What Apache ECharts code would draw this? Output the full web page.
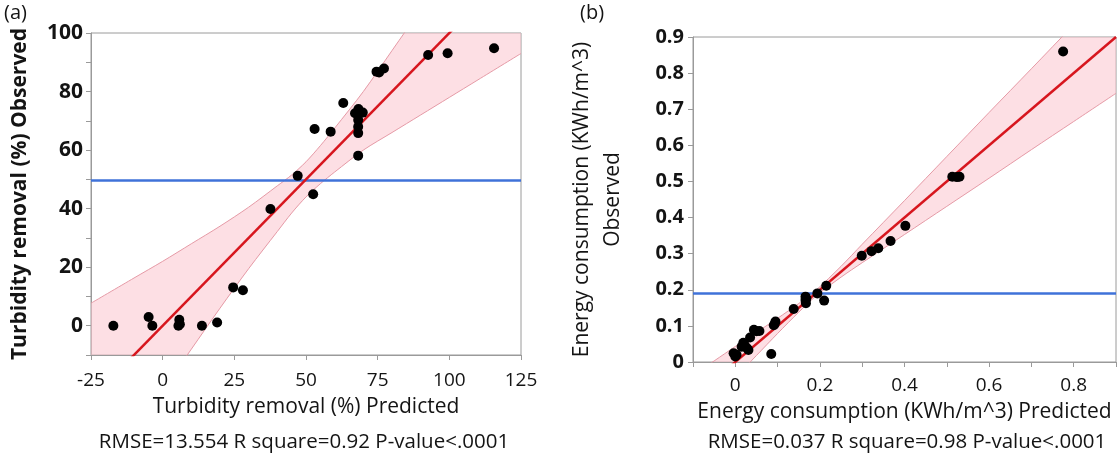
<!DOCTYPE html>
<html><head><meta charset="utf-8">
<script src="https://cdn.jsdelivr.net/npm/echarts@6/dist/echarts.min.js"></script>
<style>html,body{margin:0;padding:0;background:#fff}#c{width:1119px;height:457px}</style>
</head><body><div id="c"></div>
<script>
// ---------- Panel (a): Turbidity removal ----------
const predA = [-17.2, -4.9, -3.6, 5.5, 5.8, 6.0, 13.7, 19.0, 24.6, 28.0, 37.6, 47.1, 52.5, 53.0, 58.6, 63.0, 68.2, 68.2, 68.2, 68.2, 68.2, 67.1, 68.3, 69.8, 74.6, 75.5, 77.2, 92.6, 99.4, 115.6];
const obsA  = [0, 3, 0, 0, 2, 0.5, 0, 1.1, 13.1, 12.1, 39.9, 51.2, 44.9, 67.2, 66.3, 76.1, 58.1, 65.8, 68, 70.3, 72, 72.6, 74, 72.8, 86.8, 86.5, 87.9, 92.5, 93.1, 94.8];
const meanA = 49.6;
const fitAx = [-25, 125];
const fitAy = [-25, 125];
const bandAx     = [-25, -10, 0, 10, 20, 30, 40, 45, 50, 55, 60, 70, 80, 90, 100, 110, 125];
const bandAupper = [7.7, 16.3, 22.0, 28.0, 34.0, 40.5, 47.8, 51.5, 56.0, 61.5, 67.5, 80.0, 94.0, 108, 122, 136, 157];
const bandAlower = [-57.7, -36.3, -22, -8, 6, 19.5, 32.2, 38.5, 44, 48.5, 52.5, 60, 66, 72, 78, 84, 93];
const xLabelsA = [-25, 0, 25, 50, 75, 100, 125];
const yLabelsA = [0, 20, 40, 60, 80, 100];

// ---------- Panel (b): Energy consumption ----------
const predB = [-0.004, 0.0, 0.003, 0.015, 0.019, 0.022, 0.028, 0.031, 0.035, 0.044, 0.05, 0.057, 0.085, 0.091, 0.093, 0.095, 0.138, 0.166, 0.166, 0.167, 0.168, 0.194, 0.21, 0.215, 0.299, 0.322, 0.338, 0.367, 0.402, 0.513, 0.524, 0.53, 0.775];
const obsB  = [0.024, 0.015, 0.02, 0.042, 0.053, 0.047, 0.038, 0.033, 0.068, 0.089, 0.085, 0.086, 0.022, 0.102, 0.105, 0.112, 0.147, 0.181, 0.172, 0.163, 0.176, 0.19, 0.17, 0.211, 0.294, 0.307, 0.315, 0.335, 0.377, 0.513, 0.512, 0.513, 0.86];
const meanB = 0.193;
const fitBx = [-0.1, 0.9];
const fitBy = [-0.1, 0.9];
const bandBx     = [-0.1, -0.05, 0, 0.05, 0.1, 0.15, 0.19, 0.25, 0.3, 0.4, 0.5, 0.6, 0.7, 0.8, 0.9];
const bandBupper = [-0.036, 0.003, 0.043, 0.082, 0.121, 0.162, 0.198, 0.265, 0.326, 0.447, 0.569, 0.691, 0.812, 0.934, 1.056];
const bandBlower = [-0.164, -0.103, -0.043, 0.018, 0.079, 0.138, 0.182, 0.235, 0.275, 0.353, 0.431, 0.509, 0.588, 0.666, 0.744];
const xLabelsB = [0, 0.2, 0.4, 0.6, 0.8];
const yLabelsB = [0, 0.1, 0.2, 0.3, 0.4, 0.5, 0.6, 0.7, 0.8, 0.9];

// ---------- texts ----------
const titleA = '(a)', titleB = '(b)';
const yNameA = 'Turbidity removal (%) Observed';
const xNameA = 'Turbidity removal (%) Predicted';
const statsA = 'RMSE=13.554 R square=0.92 P-value<.0001';
const yNameB = 'Energy consumption (KWh/m^3)\nObserved';
const xNameB = 'Energy consumption (KWh/m^3) Predicted';
const statsB = 'RMSE=0.037 R square=0.98 P-value<.0001';

const FONT = '"Open Sans", "Noto Sans", sans-serif';
const TXT = '#141414';
const AXC = '#9a9a9a';
const BAND_FILL = 'rgba(252,196,206,0.55)';
const BAND_EDGE = '#e59aa6';

const zip = (a, b) => a.map((v, i) => [v, b[i]]);
const fmtNum = v => String(Number(v.toFixed(2)));
const hasLabel = (list, v) => list.some(l => Math.abs(l - v) < 1e-6);

function bandPolygon(xs, up, lo, gi) {
  return {
    type: 'custom', xAxisIndex: gi, yAxisIndex: gi, clip: true, silent: true, z: 1,
    data: [[xs[0], up[0]]],
    renderItem: (params, api) => {
      const pts = [];
      xs.forEach((x, i) => pts.push(api.coord([x, up[i]])));
      for (let i = xs.length - 1; i >= 0; i--) pts.push(api.coord([xs[i], lo[i]]));
      return { type: 'polygon', shape: { points: pts, smooth: 0 }, style: { fill: BAND_FILL, stroke: null } };
    }
  };
}
function edgeLine(xs, ys, gi) {
  return { type: 'line', xAxisIndex: gi, yAxisIndex: gi, data: zip(xs, ys), showSymbol: false, silent: true,
    smooth: 0.3, clip: true, z: 2, lineStyle: { color: BAND_EDGE, width: 1 } };
}
function fitLine(xs, ys, gi) {
  return { type: 'line', xAxisIndex: gi, yAxisIndex: gi, data: zip(xs, ys), showSymbol: false, silent: true,
    clip: true, z: 4, lineStyle: { color: '#d7161e', width: 2.5 } };
}
function points(xs, ys, gi, mean) {
  return { type: 'scatter', xAxisIndex: gi, yAxisIndex: gi, data: zip(xs, ys), symbolSize: 10, z: 6,
    itemStyle: { color: '#000', opacity: 1 },
    markLine: { silent: true, symbol: 'none', label: { show: false }, z: 3,
      lineStyle: { color: '#3f72d9', width: 2.5, type: 'solid' }, data: [{ yAxis: mean }] } };
}
const axisCommon = {
  type: 'value',
  axisLine: { show: true, onZero: false, lineStyle: { color: AXC, width: 1 } },
  axisTick: { show: true, length: 5, lineStyle: { color: AXC } },
  splitLine: { show: false }
};

const chart = echarts.init(document.getElementById('c'), null, { renderer: 'canvas' });
chart.setOption({
  animation: false,
  backgroundColor: '#fff',
  grid: [
    { left: 91, right: 598, top: 33, bottom: 102, show: true, borderColor: AXC, borderWidth: 1, backgroundColor: 'transparent' },
    { left: 693, right: -4, top: 37, bottom: 95, show: true, borderColor: AXC, borderWidth: 1, backgroundColor: 'transparent' }
  ],
  xAxis: [
    Object.assign({}, axisCommon, { gridIndex: 0, min: -25, max: 125, interval: 25,
      axisLabel: { fontFamily: FONT, fontSize: 19, color: TXT, margin: 16,
        formatter: v => hasLabel(xLabelsA, v) ? String(v) : '' },
      name: xNameA, nameLocation: 'middle', nameGap: 42,
      nameTextStyle: { fontFamily: FONT, fontSize: 21, color: TXT } }),
    Object.assign({}, axisCommon, { gridIndex: 1, min: -0.1, max: 0.9, interval: 0.1,
      axisLabel: { fontFamily: FONT, fontSize: 19, color: TXT, margin: 14,
        formatter: v => hasLabel(xLabelsB, v) ? fmtNum(v) : '' },
      name: xNameB, nameLocation: 'middle', nameGap: 40,
      nameTextStyle: { fontFamily: FONT, fontSize: 21, color: TXT } })
  ],
  yAxis: [
    Object.assign({}, axisCommon, { gridIndex: 0, min: -10, max: 100, interval: 10,
      axisLabel: { fontFamily: FONT, fontSize: 21, fontWeight: 'bold', color: TXT, margin: 8,
        formatter: v => hasLabel(yLabelsA, v) ? String(v) : '' },
      name: yNameA, nameLocation: 'middle', nameGap: 60,
      nameTextStyle: { fontFamily: FONT, fontSize: 21, fontWeight: 'bold', color: TXT } }),
    Object.assign({}, axisCommon, { gridIndex: 1, min: 0, max: 0.9, interval: 0.1,
      axisLabel: { fontFamily: FONT, fontSize: 20, fontWeight: 'bold', color: TXT, margin: 9,
        formatter: v => hasLabel(yLabelsB, v) ? fmtNum(v) : '' },
      name: yNameB, nameLocation: 'middle', nameGap: 64,
      nameTextStyle: { fontFamily: FONT, fontSize: 21, color: TXT, lineHeight: 31 } })
  ],
  graphic: [
    { type: 'text', left: 4, top: 3, style: { text: titleA, fontFamily: FONT, fontSize: 20, fill: TXT } },
    { type: 'text', left: 580, top: 3, style: { text: titleB, fontFamily: FONT, fontSize: 20, fill: TXT } },
    { type: 'text', x: 304, y: 442, style: { text: statsA, fontFamily: FONT, fontSize: 20.5, fill: TXT, align: 'center', verticalAlign: 'middle' } },
    { type: 'text', x: 907, y: 442, style: { text: statsB, fontFamily: FONT, fontSize: 20.5, fill: TXT, align: 'center', verticalAlign: 'middle' } }
  ],
  series: [
    bandPolygon(bandAx, bandAupper, bandAlower, 0),
    edgeLine(bandAx, bandAupper, 0),
    edgeLine(bandAx, bandAlower, 0),
    fitLine(fitAx, fitAy, 0),
    points(predA, obsA, 0, meanA),
    bandPolygon(bandBx, bandBupper, bandBlower, 1),
    edgeLine(bandBx, bandBupper, 1),
    edgeLine(bandBx, bandBlower, 1),
    fitLine(fitBx, fitBy, 1),
    points(predB, obsB, 1, meanB)
  ]
});
</script></body></html>
